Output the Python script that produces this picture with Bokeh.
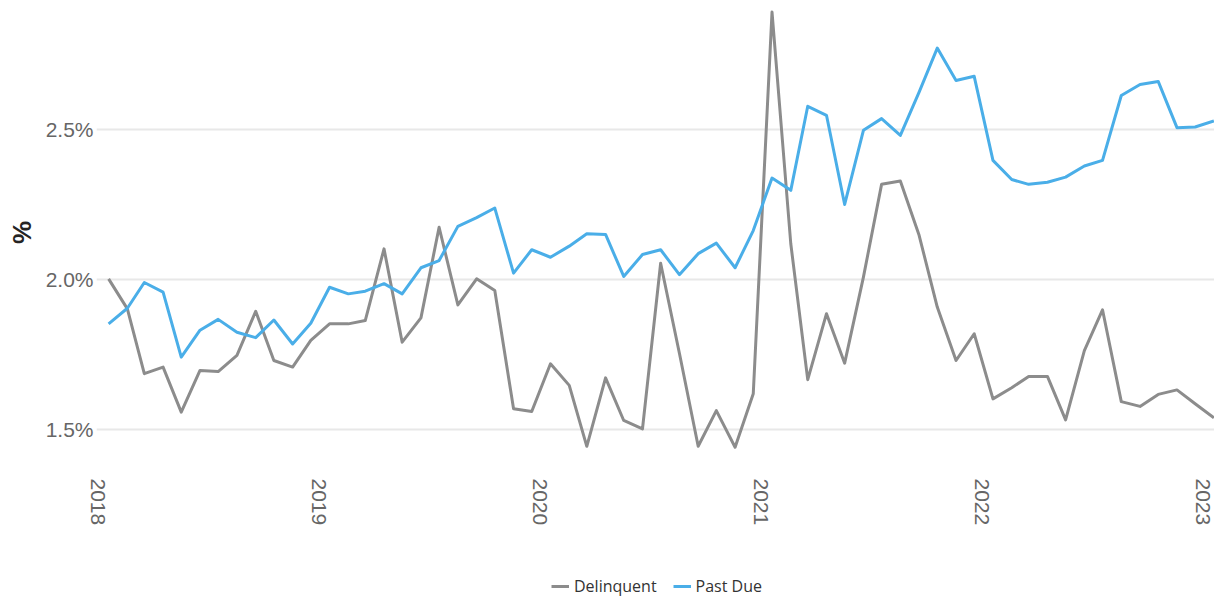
import math
import pandas as pd
from bokeh.plotting import figure
from bokeh.layouts import column
from bokeh.models import (Range1d, FixedTicker, PrintfTickFormatter,
                          CustomJSTickFormatter, Legend, LegendItem)
from bokeh.embed import file_html
from bokeh.resources import INLINE

# ---- data ----
months = pd.date_range("2018-01-01", periods=61, freq="MS")

delinquent = [2.003, 1.903, 1.687, 1.709, 1.559, 1.698, 1.694, 1.748, 1.895, 1.731,
              1.709, 1.798, 1.853, 1.853, 1.864, 2.103, 1.792, 1.873, 2.175, 1.916,
              2.003, 1.964, 1.570, 1.561, 1.720, 1.648, 1.445, 1.673, 1.531, 1.503,
              2.055, 1.755, 1.445, 1.564, 1.442, 1.620, 2.892, 2.120, 1.667, 1.887,
              1.722, 2.009, 2.318, 2.329, 2.148, 1.909, 1.731, 1.820, 1.603, 1.640,
              1.678, 1.678, 1.533, 1.764, 1.900, 1.594, 1.578, 1.618, 1.633, 1.587,
              1.540]

past_due = [1.853, 1.905, 1.991, 1.959, 1.742, 1.832, 1.868, 1.825, 1.807, 1.866,
            1.786, 1.855, 1.975, 1.953, 1.962, 1.987, 1.953, 2.040, 2.064, 2.178,
            2.207, 2.239, 2.022, 2.100, 2.075, 2.112, 2.153, 2.151, 2.011, 2.084,
            2.100, 2.017, 2.087, 2.122, 2.040, 2.164, 2.339, 2.298, 2.578, 2.548,
            2.251, 2.498, 2.537, 2.481, 2.625, 2.772, 2.664, 2.678, 2.398, 2.334,
            2.318, 2.325, 2.342, 2.379, 2.398, 2.614, 2.651, 2.661, 2.507, 2.509,
            2.529]

year_ticks = [2018, 2019, 2020, 2021, 2022, 2023]
y_ticks = [1.5, 2.0, 2.5]
series_names = ["Delinquent", "Past Due"]

GRAY = "#8c8c8c"
BLUE = "#4aaee8"

x_start = months[0] - pd.Timedelta(days=20)
x_end = months[-1] + pd.Timedelta(days=1)

# ---------------- main chart ----------------
p = figure(frame_width=1118, frame_height=460,
           x_axis_type="datetime",
           x_range=Range1d(x_start, x_end),
           y_range=Range1d(1.391, 2.924),
           min_border_left=96, min_border_right=0,
           min_border_top=2, min_border_bottom=108,
           output_backend="svg", toolbar_location=None,
           background_fill_color="white", border_fill_color="white")
p.outline_line_color = None

p.line(months, delinquent, line_color=GRAY, line_width=3, line_join="round")
p.line(months, past_due, line_color=BLUE, line_width=3, line_join="round")

# x axis: rotated year labels sitting just left of each January
shift = pd.Timedelta(days=18)
p.xaxis.ticker = FixedTicker(
    ticks=[(pd.Timestamp(f"{y}-01-01") - shift).value / 1e6 for y in year_ticks])
p.xaxis.formatter = CustomJSTickFormatter(
    code="return String(new Date(tick + 30*86400000).getUTCFullYear());")
p.xaxis.major_label_orientation = -math.pi / 2
p.xaxis.major_label_text_font = "Liberation Sans"
p.xaxis.major_label_text_font_size = "21px"
p.xaxis.major_label_text_color = "#666666"
p.xaxis.major_label_standoff = 16
p.xaxis.axis_line_color = None
p.xaxis.major_tick_line_color = None
p.xaxis.minor_tick_line_color = None
p.xaxis.major_tick_out = 0
p.xaxis.major_tick_in = 0
p.xaxis.minor_tick_out = 0
p.xaxis.minor_tick_in = 0
p.xgrid.visible = False

# y axis
p.yaxis.ticker = FixedTicker(ticks=y_ticks)
p.yaxis.formatter = PrintfTickFormatter(format="%.1f%%")
p.yaxis.major_label_text_font = "Liberation Sans"
p.yaxis.major_label_text_font_size = "21px"
p.yaxis.major_label_text_color = "#666666"
p.yaxis.major_label_standoff = 3
p.yaxis.axis_line_color = None
p.yaxis.major_tick_line_color = None
p.yaxis.minor_tick_line_color = None
p.yaxis.major_tick_out = 0
p.yaxis.major_tick_in = 0
p.yaxis.minor_tick_out = 0
p.yaxis.minor_tick_in = 0
p.yaxis.axis_label = "%"
p.yaxis.axis_label_text_font = "Liberation Sans"
p.yaxis.axis_label_text_font_size = "26px"
p.yaxis.axis_label_text_font_style = "bold"
p.yaxis.axis_label_text_color = "#252423"
p.yaxis.axis_label_standoff = 6

p.ygrid.grid_line_color = "#e8e8e8"
p.ygrid.grid_line_width = 2

# ---------------- legend strip ----------------
lg = figure(width=1214, height=27,
            x_axis_type="datetime",
            x_range=Range1d(x_start, x_end),
            y_range=Range1d(1.391, 2.924),
            x_axis_location=None, y_axis_location=None,
            min_border_left=0, min_border_right=0,
            min_border_top=0, min_border_bottom=0,
            output_backend="svg", toolbar_location=None,
            background_fill_color="white", border_fill_color="white")
lg.outline_line_color = None
lg.grid.visible = False
k1 = lg.line(months, delinquent, line_color=GRAY, line_width=3, visible=False)
k2 = lg.line(months, past_due, line_color=BLUE, line_width=3, visible=False)

legend = Legend(items=[LegendItem(label=series_names[0], renderers=[k1]),
                       LegendItem(label=series_names[1], renderers=[k2])],
                orientation="horizontal", location=(455, 0),
                border_line_color=None, background_fill_alpha=0,
                inactive_fill_alpha=0,
                padding=0, margin=0, spacing=16, label_standoff=5,
                glyph_width=18, glyph_height=20, label_height=20,
                label_text_font="Open Sans", label_text_font_size="16px",
                label_text_color="#333333")
lg.add_layout(legend)

layout = column(p, lg, spacing=0)
open("out.html", "w").write(file_html(layout, INLINE))
